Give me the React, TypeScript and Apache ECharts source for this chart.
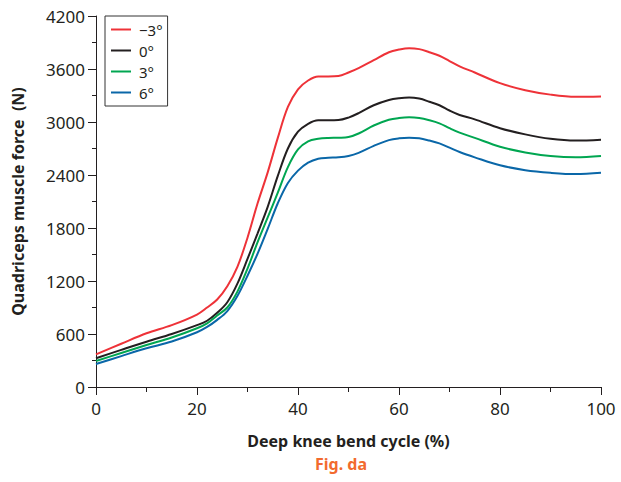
import React, { useEffect, useRef } from "react";
import * as echarts from "echarts";

const xValues = [0, 5, 10, 15, 20, 22, 24, 26, 28, 30, 32, 34, 36, 38, 40, 42, 44, 46, 48, 50, 52, 55, 58, 60, 62, 64, 66, 68, 70, 72, 75, 80, 85, 90, 95, 100];

const seriesNames = ["\u22123\u00b0", "0\u00b0", "3\u00b0", "6\u00b0"];
const seriesColors = ["#ee3238", "#231f20", "#00a651", "#0a67a8"];

const minus3 = [370, 490, 608, 700, 820, 900, 990, 1140, 1360, 1690, 2080, 2430, 2820, 3170, 3370, 3470, 3515, 3515, 3520, 3560, 3610, 3700, 3790, 3820, 3835, 3825, 3790, 3750, 3690, 3630, 3560, 3440, 3360, 3310, 3285, 3290];
const zero = [325, 420, 513, 600, 700, 750, 840, 960, 1170, 1450, 1740, 2040, 2390, 2700, 2890, 2980, 3020, 3020, 3022, 3050, 3100, 3190, 3250, 3270, 3278, 3265, 3230, 3190, 3130, 3080, 3030, 2930, 2860, 2810, 2790, 2800];
const plus3 = [294, 385, 475, 560, 665, 720, 810, 900, 1080, 1340, 1640, 1920, 2200, 2490, 2690, 2780, 2810, 2820, 2822, 2830, 2870, 2960, 3025, 3045, 3053, 3045, 3020, 2985, 2930, 2880, 2820, 2720, 2655, 2615, 2600, 2615];
const plus6 = [260, 350, 438, 515, 620, 680, 760, 860, 1030, 1260, 1510, 1790, 2080, 2310, 2450, 2540, 2585, 2595, 2600, 2615, 2650, 2730, 2795, 2815, 2822, 2815, 2790, 2758, 2710, 2660, 2600, 2510, 2455, 2425, 2410, 2426];

const allSeries = [minus3, zero, plus3, plus6];

const xTitle = "Deep knee bend cycle (%)";
const yTitle = "Quadriceps muscle force  (N)";
const figLabel = "Fig. da";

const FONT = "'Noto Sans', sans-serif";
const TEXT = "#231f20";

export default function App() {
  const ref = useRef<HTMLDivElement>(null);
  useEffect(() => {
    if (!ref.current) return;
    const chart = echarts.init(ref.current, undefined, { renderer: "svg" });
    chart.setOption({
      animation: false,
      backgroundColor: "#ffffff",
      textStyle: { fontFamily: FONT },
      grid: { left: 96, right: 20, top: 16, bottom: 95 },
      legend: {
        orient: "vertical",
        left: 105,
        top: 16,
        padding: [6, 5, 6, 6],
        borderColor: "#333333",
        borderWidth: 1,
        icon: "rect",
        itemWidth: 20,
        itemHeight: 2,
        itemGap: 6,
        textStyle: { fontFamily: FONT, fontSize: 15, color: TEXT, lineHeight: 15, padding: [0, 0, 0, 3] },
        data: seriesNames,
      },
      xAxis: {
        type: "value",
        min: 0,
        max: 100,
        interval: 20,
        name: xTitle,
        nameLocation: "middle",
        nameGap: 46,
        nameTextStyle: { fontFamily: FONT, fontSize: 16, fontWeight: "bold", color: TEXT },
        axisLine: { show: true, onZero: false, lineStyle: { color: TEXT, width: 1 } },
        axisTick: { show: true, length: 8, lineStyle: { color: TEXT } },
        minorTick: { show: true, splitNumber: 2, length: 5, lineStyle: { color: TEXT } },
        axisLabel: { fontFamily: FONT, fontSize: 17, color: TEXT, margin: 13, formatter: (v: number) => String(v) },
        splitLine: { show: false },
      },
      yAxis: {
        type: "value",
        min: 0,
        max: 4200,
        interval: 600,
        name: yTitle,
        nameLocation: "middle",
        nameGap: 70,
        nameTextStyle: { fontFamily: FONT, fontSize: 16, fontWeight: "bold", color: TEXT },
        axisLine: { show: true, onZero: false, lineStyle: { color: TEXT, width: 1 } },
        axisTick: { show: true, length: 8, lineStyle: { color: TEXT } },
        minorTick: { show: true, splitNumber: 2, length: 4, lineStyle: { color: TEXT } },
        axisLabel: { fontFamily: FONT, fontSize: 17, color: TEXT, margin: 11, formatter: (v: number) => String(v) },
        splitLine: { show: false },
      },
      graphic: [
        {
          type: "text",
          left: 315,
          top: 456,
          style: {
            text: figLabel,
            fontFamily: FONT,
            fontSize: 16,
            fontWeight: "bold",
            fill: "#f26a2e",
          },
        },
      ],
      series: allSeries.map((vals, i) => ({
        name: seriesNames[i],
        type: "line",
        data: xValues.map((x, j) => [x, vals[j]]),
        symbol: "none",
        smooth: 0.35,
        lineStyle: { color: seriesColors[i], width: 2 },
        itemStyle: { color: seriesColors[i] },
      })),
    });
    return () => chart.dispose();
  }, []);
  return (
    <div
      ref={ref}
      style={{ position: "fixed", left: 0, top: 0, width: 621, height: 482 }}
    />
  );
}
